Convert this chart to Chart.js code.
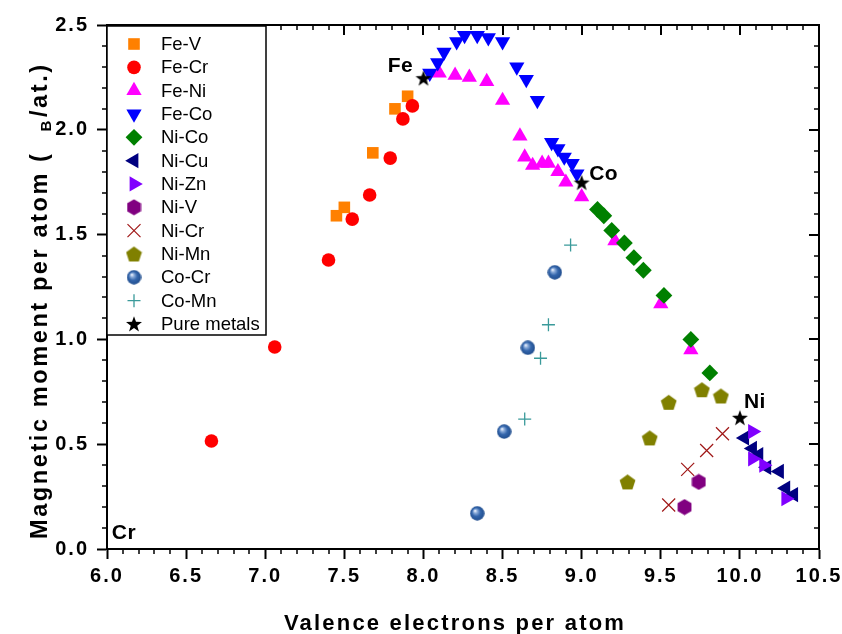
<!DOCTYPE html>
<html><head><meta charset="utf-8">
<script src="https://cdn.jsdelivr.net/npm/chart.js@4.4.1/dist/chart.umd.min.js"></script>
<style>html,body{margin:0;padding:0;background:#fff}canvas{display:block}</style>
</head><body>
<canvas id="c" width="842" height="634"></canvas>
<script>
// ---------------- DATA ----------------
const seriesNames = ['Fe-V','Fe-Cr','Fe-Ni','Fe-Co','Ni-Co','Ni-Cu','Ni-Zn','Ni-V','Ni-Cr','Ni-Mn','Co-Cr','Co-Mn','Pure metals'];
const feV_x  = [7.45, 7.50, 7.68, 7.82, 7.90];
const feV_y  = [1.59, 1.63, 1.89, 2.10, 2.16];
const feCr_x = [6.66, 7.06, 7.40, 7.55, 7.66, 7.79, 7.87, 7.93];
const feCr_y = [0.515, 0.964, 1.379, 1.574, 1.689, 1.865, 2.052, 2.114];
const feNi_x = [8.10, 8.20, 8.29, 8.40, 8.50, 8.61, 8.64, 8.69, 8.75, 8.79, 8.85, 8.90, 9.00, 9.21, 9.50, 9.69];
const feNi_y = [2.27, 2.26, 2.25, 2.23, 2.14, 1.97, 1.87, 1.83, 1.84, 1.84, 1.80, 1.75, 1.68, 1.47, 1.17, 0.95];
const feCo_x = [8.04, 8.09, 8.13, 8.21, 8.26, 8.34, 8.41, 8.50, 8.59, 8.65, 8.72, 8.81, 8.85, 8.89, 8.94, 8.97];
const feCo_y = [2.27, 2.32, 2.37, 2.42, 2.45, 2.45, 2.44, 2.42, 2.30, 2.24, 2.14, 1.94, 1.91, 1.87, 1.84, 1.79];
const niCo_x = [9.10, 9.14, 9.19, 9.27, 9.33, 9.39, 9.52, 9.69, 9.81];
const niCo_y = [1.62, 1.59, 1.52, 1.46, 1.39, 1.33, 1.21, 1.00, 0.84];
const niCu_x = [10.03, 10.08, 10.12, 10.17, 10.25, 10.29, 10.34];
const niCu_y = [0.53, 0.48, 0.45, 0.39, 0.37, 0.29, 0.26];
const niZn_x = [10.08, 10.08, 10.15, 10.29];
const niZn_y = [0.56, 0.43, 0.40, 0.24];
const niV_x  = [9.65, 9.74];
const niV_y  = [0.20, 0.32];
const niCr_x = [9.55, 9.67, 9.79, 9.89];
const niCr_y = [0.21, 0.38, 0.47, 0.55];
const niMn_x = [9.29, 9.43, 9.55, 9.76, 9.88];
const niMn_y = [0.32, 0.53, 0.70, 0.76, 0.73];
const coCr_x = [8.34, 8.51, 8.66, 8.83];
const coCr_y = [0.17, 0.56, 0.96, 1.32];
const coMn_x = [8.64, 8.74, 8.79, 8.93];
const coMn_y = [0.62, 0.91, 1.07, 1.45];
const pure_x = [8.0, 9.0, 10.0];
const pure_y = [2.246, 1.748, 0.626];
const elementLabels = ['Fe','Co','Ni','Cr'];
const elementLabel_x = [8.0, 9.0, 10.0, 6.0];
const elementLabel_y = [2.246, 1.748, 0.626, 0.0];
const xTickValues = [6.0, 6.5, 7.0, 7.5, 8.0, 8.5, 9.0, 9.5, 10.0, 10.5];
const yTickValues = [0.0, 0.5, 1.0, 1.5, 2.0, 2.5];
const xAxisTitle = 'Valence electrons per atom';
const yAxisTitleMain = 'Magnetic moment per atom (';
const yAxisTitleSub = 'B';
const yAxisTitleEnd = '/at.)';

// ---------------- STYLES ----------------
function mk(w, h, fn) { const c = document.createElement('canvas'); c.width = w; c.height = h; fn(c.getContext('2d'), w, h); return c; }
const hexImg = mk(15, 17, (g) => {
  g.fillStyle = '#800080'; g.beginPath();
  for (let k = 0; k < 6; k++) { const a = -Math.PI/2 + k*Math.PI/3; g.lineTo(7.5 + 8*Math.cos(a), 8.5 + 8*Math.sin(a)); }
  g.closePath(); g.fill();
});
const pentImg = mk(17, 17, (g) => {
  g.fillStyle = '#808000'; g.beginPath();
  for (let k = 0; k < 5; k++) { const a = -Math.PI/2 + k*2*Math.PI/5; g.lineTo(8.5 + 8.3*Math.cos(a), 9.2 + 8.3*Math.sin(a)); }
  g.closePath(); g.fill();
});
const sphereImg = mk(15, 15, (g) => {
  const gr = g.createRadialGradient(5.2, 4.8, 0.3, 7.5, 7.5, 7.5);
  gr.addColorStop(0, '#f2f6ff'); gr.addColorStop(0.22, '#8eaedb'); gr.addColorStop(0.55, '#3466ac'); gr.addColorStop(1, '#1f4c8c');
  g.fillStyle = gr; g.beginPath(); g.arc(7.5, 7.5, 7.2, 0, 2*Math.PI); g.fill();
});
const starImg = mk(18, 18, (g) => {
  g.fillStyle = '#000'; g.beginPath();
  for (let k = 0; k < 10; k++) { const r = k % 2 ? 3.4 : 8.4; const a = -Math.PI/2 + k*Math.PI/5; g.lineTo(9 + r*Math.cos(a), 9.6 + r*Math.sin(a)); }
  g.closePath(); g.fill();
});

const styles = [
  {pointStyle:'rect', color:'#FF8000', r:8.2, rot:0},
  {pointStyle:'circle', color:'#FF0000', r:6.8, rot:0},
  {pointStyle:'triangle', color:'#FF00FF', r:8.8, rot:0},
  {pointStyle:'triangle', color:'#0000FF', r:8.8, rot:180},
  {pointStyle:'rectRot', color:'#008000', r:8.4, rot:0},
  {pointStyle:'triangle', color:'#000080', r:8.8, rot:-90},
  {pointStyle:'triangle', color:'#8000FF', r:8.8, rot:90},
  {pointStyle:hexImg, color:'#800080', r:8, rot:0},
  {pointStyle:'crossRot', color:'#A01818', r:9.2, rot:0, line:1.2},
  {pointStyle:pentImg, color:'#808000', r:8, rot:0},
  {pointStyle:sphereImg, color:'#2F63A8', r:7, rot:0},
  {pointStyle:'cross', color:'#3A9A9A', r:6.5, rot:0, line:1.3},
  {pointStyle:starImg, color:'#000000', r:8, rot:0},
];
const seriesX = [feV_x, feCr_x, feNi_x, feCo_x, niCo_x, niCu_x, niZn_x, niV_x, niCr_x, niMn_x, coCr_x, coMn_x, pure_x];
const seriesY = [feV_y, feCr_y, feNi_y, feCo_y, niCo_y, niCu_y, niZn_y, niV_y, niCr_y, niMn_y, coCr_y, coMn_y, pure_y];

const datasets = seriesNames.map((name, i) => {
  const s = styles[i];
  const line = !!s.line;
  return {
    label: name,
    data: seriesX[i].map((x, j) => ({x: x, y: seriesY[i][j]})),
    pointStyle: s.pointStyle,
    pointRadius: s.r,
    pointHoverRadius: s.r,
    pointRotation: s.rot,
    backgroundColor: line ? 'transparent' : s.color,
    borderColor: s.color,
    pointBorderWidth: line ? s.line : 0,
    showLine: false,
    order: seriesNames.length - i,
    clip: false
  };
});

const BOLD = "'Liberation Sans', Arial, Helvetica, sans-serif";
const LS = '2px';

// ---------------- PLUGINS ----------------
function drawMarker(ctx, s, x, y) {
  ctx.save();
  ctx.fillStyle = s.color; ctx.strokeStyle = s.color;
  ctx.translate(x, y); ctx.rotate(s.rot * Math.PI / 180);
  const r = s.r;
  if (typeof s.pointStyle !== 'string') {
    ctx.drawImage(s.pointStyle, -s.pointStyle.width/2, -s.pointStyle.height/2);
  } else if (s.pointStyle === 'rect') {
    const h = Math.SQRT1_2 * r; ctx.fillRect(-h, -h, 2*h, 2*h);
  } else if (s.pointStyle === 'circle') {
    ctx.beginPath(); ctx.arc(0, 0, r, 0, 2*Math.PI); ctx.fill();
  } else if (s.pointStyle === 'triangle') {
    ctx.beginPath();
    for (let k = 0; k < 3; k++) { const a = k*2*Math.PI/3; ctx.lineTo(Math.sin(a)*r, -Math.cos(a)*r); }
    ctx.closePath(); ctx.fill();
  } else if (s.pointStyle === 'rectRot') {
    ctx.beginPath(); ctx.moveTo(-r,0); ctx.lineTo(0,-r); ctx.lineTo(r,0); ctx.lineTo(0,r); ctx.closePath(); ctx.fill();
  } else if (s.pointStyle === 'cross') {
    ctx.lineWidth = s.line; ctx.beginPath(); ctx.moveTo(0,-r); ctx.lineTo(0,r); ctx.moveTo(-r,0); ctx.lineTo(r,0); ctx.stroke();
  } else if (s.pointStyle === 'crossRot') {
    const o = Math.SQRT1_2 * r;
    ctx.lineWidth = s.line; ctx.beginPath(); ctx.moveTo(-o,-o); ctx.lineTo(o,o); ctx.moveTo(-o,o); ctx.lineTo(o,-o); ctx.stroke();
  }
  ctx.restore();
}

const decor = {
  id: 'decor',
  beforeDraw(chart) { chart.ctx.letterSpacing = LS; },
  afterDraw(chart) {
    const ctx = chart.ctx, a = chart.chartArea;
    const xs = chart.scales.x, ys = chart.scales.y;
    ctx.save();
    ctx.strokeStyle = '#000'; ctx.lineCap = 'butt';
    // frame top and right
    ctx.lineWidth = 2;
    ctx.beginPath();
    ctx.moveTo(a.left - 1, a.top); ctx.lineTo(a.right, a.top); ctx.lineTo(a.right, a.bottom + 1);
    ctx.stroke();
    // minor and mirrored ticks
    for (let k = 0; k <= 45; k++) {
      const v = 6 + k*0.1; const major = k % 5 === 0;
      const px = Math.round(xs.getPixelForValue(v));
      ctx.lineWidth = major ? 2 : 1.5;
      const L = major ? 10 : 5;
      ctx.beginPath();
      if (!major) { ctx.moveTo(px, a.bottom); ctx.lineTo(px, a.bottom + L); }
      ctx.moveTo(px, a.top); ctx.lineTo(px, a.top + L);
      ctx.stroke();
    }
    for (let k = 0; k <= 25; k++) {
      const v = k*0.1; const major = k % 5 === 0;
      const py = Math.round(ys.getPixelForValue(v));
      ctx.lineWidth = major ? 2 : 1.5;
      const L = major ? 10 : 5;
      ctx.beginPath();
      if (!major) { ctx.moveTo(a.left - L, py); ctx.lineTo(a.left, py); }
      ctx.moveTo(a.right - L, py); ctx.lineTo(a.right, py);
      ctx.stroke();
    }
    // element labels
    ctx.letterSpacing = '0.5px';
    ctx.fillStyle = '#000';
    ctx.font = 'bold 21px ' + BOLD;
    ctx.textAlign = 'center'; ctx.textBaseline = 'middle';
    const offs = [[-23,-12], [22,-8], [15,-16], [17,-16]];
    elementLabels.forEach((t, i) => {
      const px = xs.getPixelForValue(elementLabel_x[i]), py = ys.getPixelForValue(elementLabel_y[i]);
      ctx.fillText(t, px + offs[i][0], py + offs[i][1]);
    });
    // axis titles
    ctx.letterSpacing = '2.2px';
    ctx.font = 'bold 22px ' + BOLD;
    ctx.textAlign = 'center'; ctx.textBaseline = 'alphabetic';
    ctx.fillText(xAxisTitle, 455, 630);
    ctx.save();
    ctx.translate(47, 539); ctx.rotate(-Math.PI/2);
    ctx.textAlign = 'left';
    ctx.letterSpacing = '2.6px';
    ctx.font = 'bold 23.5px ' + BOLD;
    ctx.fillText(yAxisTitleMain, 0, 0);
    let w = ctx.measureText(yAxisTitleMain).width + 20;
    ctx.font = 'bold 15px ' + BOLD;
    ctx.fillText(yAxisTitleSub, w, 4);
    w += ctx.measureText(yAxisTitleSub).width + 1;
    ctx.font = 'bold 23.5px ' + BOLD;
    ctx.fillText(yAxisTitleEnd, w, 0);
    ctx.restore();
    // legend
    ctx.letterSpacing = '0px';
    const lx = a.left, ly = a.top + 1, lw = 159, lh = 309;
    ctx.fillStyle = '#fff'; ctx.fillRect(lx, ly, lw, lh);
    ctx.lineWidth = 1.5; ctx.strokeStyle = '#000'; ctx.strokeRect(lx, ly, lw, lh);
    ctx.font = '18.5px ' + BOLD;
    ctx.textAlign = 'left'; ctx.textBaseline = 'middle';
    seriesNames.forEach((n, i) => {
      const yy = 44 + i * 23.33;
      drawMarker(ctx, styles[i], lx + 27, yy);
      ctx.fillStyle = '#000';
      ctx.fillText(n, lx + 54, yy + 1);
    });
    ctx.restore();
  }
};

// ---------------- CHART ----------------
new Chart(document.getElementById('c'), {
  type: 'scatter',
  data: { datasets },
  options: {
    responsive: false, animation: false, devicePixelRatio: 1,
    layout: { padding: { left: 0, right: 23, top: 25, bottom: 0 } },
    plugins: { legend: { display: false }, tooltip: { enabled: false } },
    scales: {
      x: {
        type: 'linear', min: 6, max: 10.5,
        afterBuildTicks: (s) => { s.ticks = xTickValues.map(v => ({value: v})); },
        afterFit: (s) => { s.height = 85; s.paddingLeft = 0; s.paddingRight = 0; },
        ticks: { callback: (v) => Number(v).toFixed(1), color: '#000', font: { family: BOLD, size: 20, weight: 'bold' }, padding: 5, maxRotation: 0, autoSkip: false },
        grid: { display: true, drawOnChartArea: false, drawTicks: true, tickLength: 10, tickWidth: 2, tickColor: '#000' },
        border: { display: true, color: '#000', width: 2 }
      },
      y: {
        type: 'linear', min: 0, max: 2.5,
        afterBuildTicks: (s) => { s.ticks = yTickValues.map(v => ({value: v})); },
        afterFit: (s) => { s.width = 107; s.paddingTop = 0; s.paddingBottom = 0; },
        ticks: { callback: (v) => Number(v).toFixed(1), color: '#000', font: { family: BOLD, size: 20, weight: 'bold' }, padding: 8, autoSkip: false },
        grid: { display: true, drawOnChartArea: false, drawTicks: true, tickLength: 10, tickWidth: 2, tickColor: '#000' },
        border: { display: true, color: '#000', width: 2 }
      }
    }
  },
  plugins: [decor]
});
</script>
</body></html>
